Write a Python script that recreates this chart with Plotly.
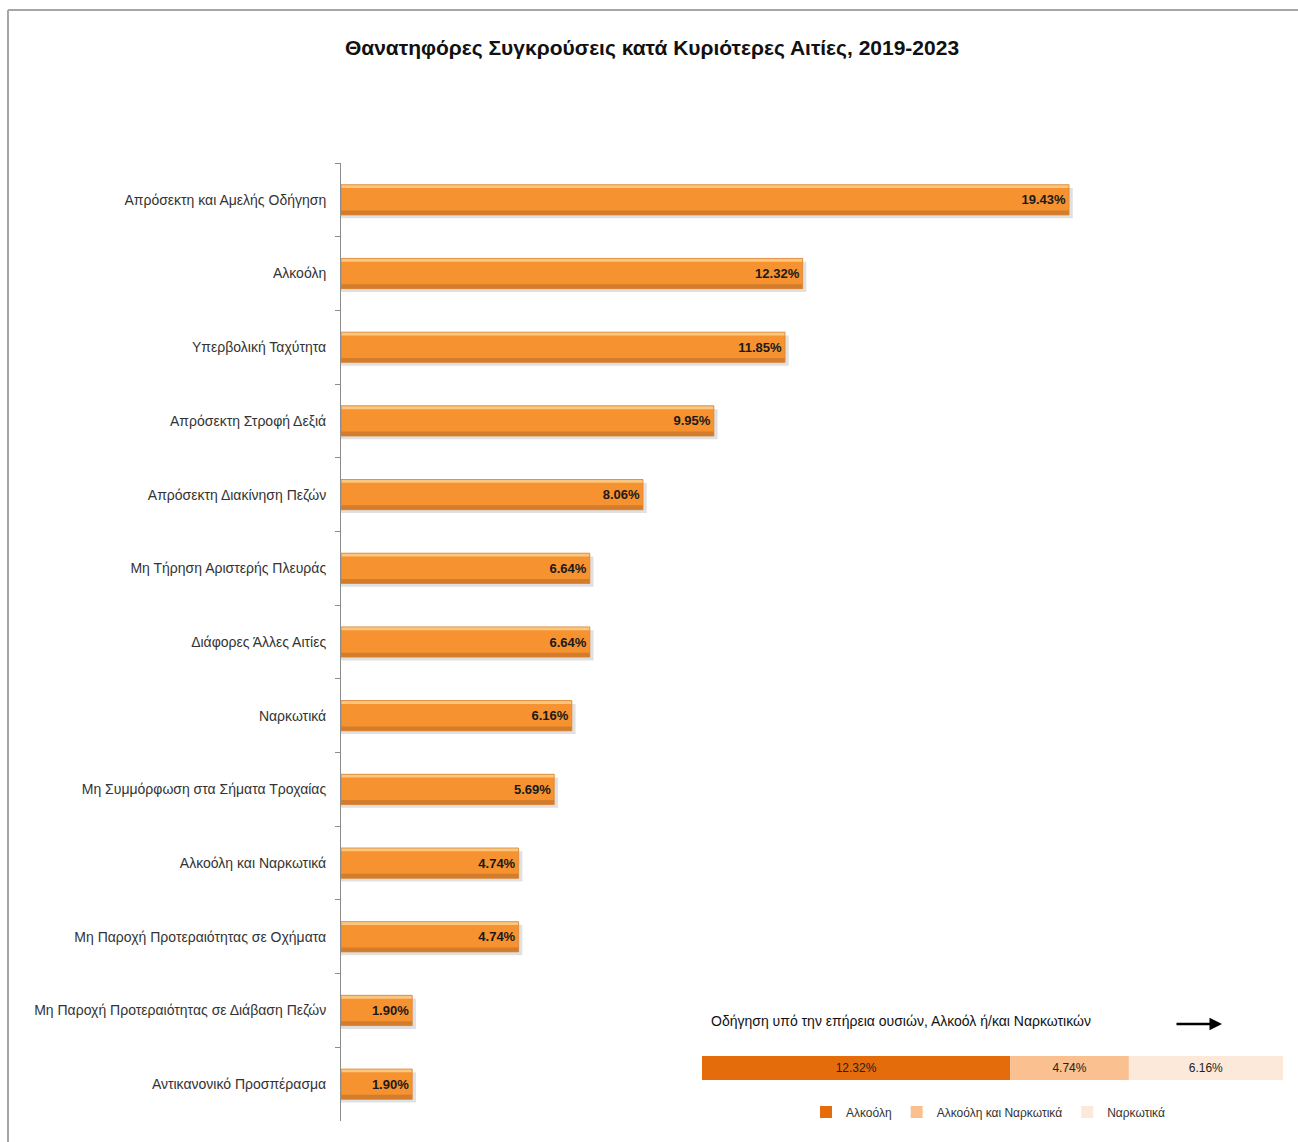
import plotly.graph_objects as go

categories = [
    "Απρόσεκτη και Αμελής Οδήγηση",
    "Αλκοόλη",
    "Υπερβολική Ταχύτητα",
    "Απρόσεκτη Στροφή Δεξιά",
    "Απρόσεκτη Διακίνηση Πεζών",
    "Μη Τήρηση Αριστερής Πλευράς",
    "Διάφορες Άλλες Αιτίες",
    "Ναρκωτικά",
    "Μη Συμμόρφωση στα Σήματα Τροχαίας",
    "Αλκοόλη και Ναρκωτικά",
    "Μη Παροχή Προτεραιότητας σε Οχήματα",
    "Μη Παροχή Προτεραιότητας σε Διάβαση Πεζών",
    "Αντικανονικό Προσπέρασμα",
]
values = [19.43, 12.32, 11.85, 9.95, 8.06, 6.64, 6.64, 6.16, 5.69, 4.74, 4.74, 1.90, 1.90]

sub_names = ["Αλκοόλη", "Αλκοόλη και Ναρκωτικά", "Ναρκωτικά"]
sub_values = [12.32, 4.74, 6.16]
sub_colors = ["#E46C0A", "#FAC090", "#FDE9D9"]

title_text = "Θανατηφόρες Συγκρούσεις κατά Κυριότερες Αιτίες, 2019-2023"
inset_title = "Οδήγηση υπό την επήρεια ουσιών, Αλκοόλ ή/και Ναρκωτικών"

FONT = "Liberation Sans, Arial, sans-serif"
W, H = 1298, 1142


def px(x):
    return x / W


def py(y):
    return 1 - y / H


BW = 0.41
fig = go.Figure()

# soft shadow
fig.add_trace(go.Bar(
    y=categories, x=[v + 0.1 for v in values], orientation="h",
    marker=dict(color="rgba(0,0,0,0.12)", line=dict(width=0)),
    width=BW, offset=-BW / 2 + 0.045, showlegend=False, hoverinfo="skip",
))
# main bar body
fig.add_trace(go.Bar(
    y=categories, x=values, orientation="h",
    marker=dict(color="#F6922F", line=dict(width=0)),
    width=BW, offset=-BW / 2, showlegend=False, hoverinfo="skip",
))
# top highlight
fig.add_trace(go.Bar(
    y=categories, x=values, orientation="h",
    marker=dict(color="#FBC77F", line=dict(width=0)),
    width=0.045, offset=-BW / 2, showlegend=False, hoverinfo="skip",
))
# bottom darker band
fig.add_trace(go.Bar(
    y=categories, x=values, orientation="h",
    marker=dict(color="#D27C2C", line=dict(width=0)),
    width=0.06, offset=BW / 2 - 0.06, showlegend=False, hoverinfo="skip",
))
# outline + labels
fig.add_trace(go.Bar(
    y=categories, x=values, orientation="h",
    marker=dict(color="rgba(0,0,0,0)", line=dict(color="#D98433", width=0.8)),
    width=BW, offset=-BW / 2,
    text=[f"{v:.2f}%" for v in values],
    textposition="inside", insidetextanchor="end",
    textfont=dict(family=FONT, size=13, color="#1a1a1a", weight="bold"),
    showlegend=False, hoverinfo="skip",
))

bases = []
acc = 0
for v in sub_values:
    bases.append(acc)
    acc += v

for n, v, b, c in zip(sub_names, sub_values, bases, sub_colors):
    fig.add_trace(go.Bar(
        y=["s"], x=[v], base=[b], orientation="h", name=n,
        marker=dict(color=c, line=dict(width=0)),
        width=0.6,
        text=[f"{v:.2f}%"], textposition="inside", insidetextanchor="middle",
        textfont=dict(family=FONT, size=12, color="#222222"),
        xaxis="x2", yaxis="y2", hoverinfo="skip",
    ))

total_sub = sum(sub_values)

fig.update_layout(
    width=W, height=H,
    margin=dict(l=0, r=0, t=0, b=0),
    paper_bgcolor="white", plot_bgcolor="white",
    barmode="overlay",
    font=dict(family=FONT, color="#333333"),
    title=dict(text=title_text, x=px(652), y=py(48), xanchor="center", yanchor="middle",
               font=dict(family=FONT, size=21, color="#111111", weight="bold")),
    xaxis=dict(domain=[px(341), px(1283)], range=[0, 942 / 37.47], visible=False, fixedrange=True),
    yaxis=dict(domain=[py(1121), py(163)], autorange="reversed", type="category",
               showline=True, linecolor="#8c8c8c", linewidth=1,
               ticks="outside", tickson="boundaries", ticklen=5, tickcolor="#8c8c8c",
               ticklabelstandoff=11,
               tickfont=dict(family=FONT, size=14, color="#333333"), showgrid=False),
    xaxis2=dict(domain=[px(702), px(1283)], range=[0, total_sub], visible=False, anchor="y2"),
    yaxis2=dict(domain=[py(1088), py(1048)], range=[-0.5, 0.5], visible=False, anchor="x2"),
    legend=dict(orientation="h", x=px(988), y=py(1112), xanchor="center", yanchor="middle",
                font=dict(family=FONT, size=12, color="#333333"), traceorder="normal",
                itemwidth=30, bgcolor="rgba(0,0,0,0)"),
    annotations=[
        dict(text=inset_title, x=px(709), y=py(1021), xref="paper", yref="paper",
             xanchor="left", yanchor="middle", showarrow=False,
             font=dict(family=FONT, size=14, color="#111111")),
        dict(text="", x=px(1222), y=py(1024), xref="paper", yref="paper",
             ax=-47, ay=0, showarrow=True, arrowhead=2, arrowsize=1, arrowwidth=2.5,
             arrowcolor="#000000"),
    ],
    shapes=[
        dict(type="line", xref="paper", yref="paper", x0=px(8), x1=px(8), y0=0, y1=py(10),
             line=dict(color="#A6A6A6", width=2)),
        dict(type="line", xref="paper", yref="paper", x0=px(8), x1=1, y0=py(10), y1=py(10),
             line=dict(color="#A6A6A6", width=2)),
    ],
)

fig.write_html("out.html", config={"displayModeBar": False},
               post_script="document.body.style.margin='0';")
